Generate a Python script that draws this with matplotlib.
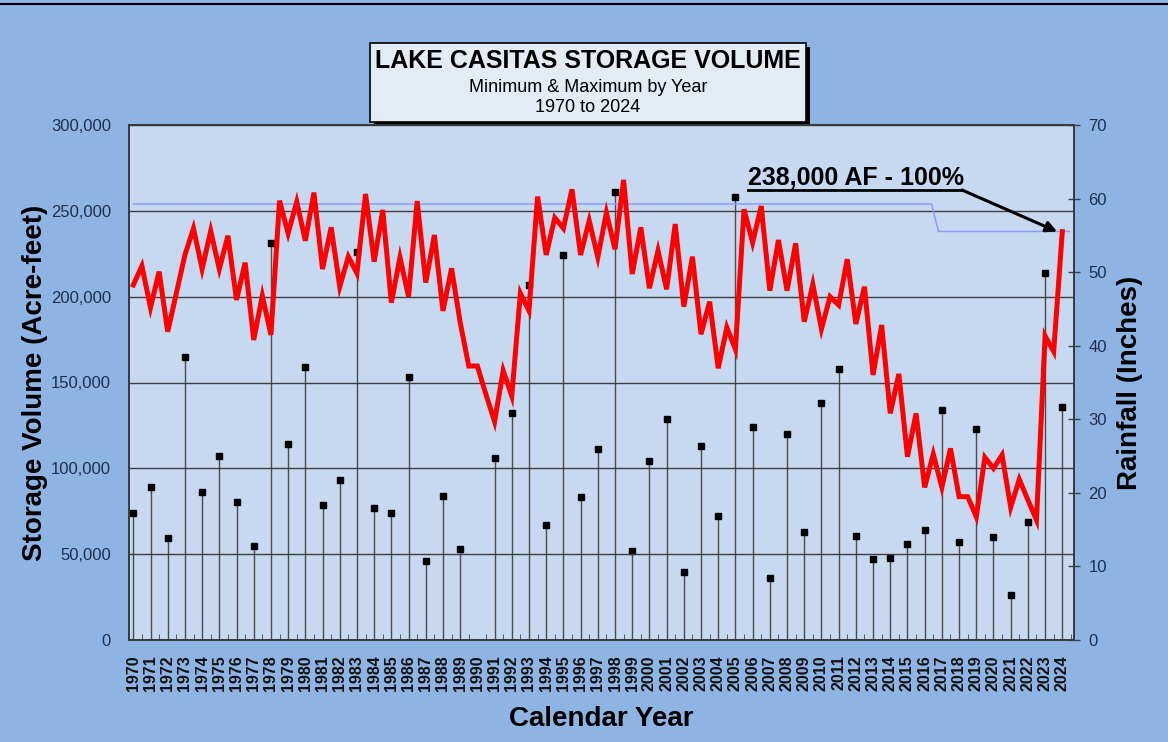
import numpy as np
import matplotlib
matplotlib.use('Agg')
import matplotlib.pyplot as plt
from matplotlib.lines import Line2D
from matplotlib.patches import Rectangle
from matplotlib.ticker import FuncFormatter, MultipleLocator

plt.rcParams['font.family'] = ['Liberation Sans', 'DejaVu Sans']

# rainfall by calendar year (inches), 1970-2024
years = np.arange(1970, 2025)
rain = [17.3, 20.8, 13.8, 38.5, 20.1, 25.0, 18.7, 12.8, 53.9, 26.6,
        37.1, 18.4, 21.7, 52.7, 18.0, 17.3, 35.7, 10.7, 19.6, 12.4,
        np.nan, 24.7, 30.8, 48.3, 15.6, 52.3, 19.4, 25.9, 60.9, 12.1,
        24.3, 30.1, 9.3, 26.4, 16.8, 60.2, 28.9, 8.4, 28.0, 14.7,
        32.2, 36.9, 14.2, 11.0, 11.2, 13.1, 14.9, 31.3, 13.3, 28.7,
        14.0, 6.1, 16.1, 49.9, 31.7]

# storage min / max alternating through each year (thousand acre-feet)
storage_years = np.arange(1970, 2024.01, 0.5)
storage_kaf = [206.8, 217.9, 193.6, 214.6, 179.6, 201.9, 224.3, 239.8, 216.1, 238.3,
               216.1, 235.5, 198.1, 219.8, 174.8, 200.6, 177.7, 255.9, 236.9, 255.3,
               232.6, 260.6, 216.1, 240.4, 205.8, 223.3, 213.6, 259.8, 220.4, 250.5,
               196.5, 222.9, 200.0, 255.7, 208.2, 235.9, 191.7, 216.5, 185.0, 159.6,
               159.6, 143.0, 127.2, 156.9, 142.1, 202.0, 191.8, 258.3, 224.3, 246.0,
               239.8, 262.5, 224.3, 244.3, 222.9, 248.9, 227.6, 268.0, 213.2, 240.4,
               204.9, 226.8, 204.3, 242.3, 194.2, 223.3, 178.1, 197.1, 158.3, 182.1,
               169.3, 250.9, 231.5, 252.8, 203.5, 233.0, 203.5, 231.1, 185.4, 207.2,
               181.2, 200.0, 195.1, 221.8, 184.1, 205.8, 154.4, 183.5, 132.0, 155.0,
               106.8, 132.0, 88.9, 108.3, 88.9, 111.6, 83.5, 83.5, 71.8, 106.4,
               100.0, 107.8, 77.3, 93.6, 81.6, 69.9, 177.1, 168.0, 237.9]

# reservoir capacity line
cap_years = [1970, 2016.4, 2016.8, 2024.4]
cap_af = [254000, 254000, 238000, 238000]

BG = '#8EB4E3'
PLOT_BG = '#C6D9F0'
TXT = '#1F2F4A'

fig = plt.figure(figsize=(11.68, 7.42), dpi=100, facecolor=BG)
ax = fig.add_axes([129 / 1168, 1 - 640 / 742, 945 / 1168, 515 / 742])
ax2 = ax.twinx()
ax.set_zorder(ax2.get_zorder() + 1)
ax.patch.set_visible(False)
ax2.patch.set_visible(True)
ax2.patch.set_facecolor(PLOT_BG)

# rainfall stems
ax2.vlines(years, 0, rain, color='#4A4A4A', lw=1.0)
ax2.plot(years, rain, 's', color='black', ms=4.2, ls='none')
ax2.set_ylim(0, 70)
ax2.yaxis.set_major_locator(MultipleLocator(10))
ax2.tick_params(axis='y', direction='inout', length=9, width=1, color='#404040',
                labelsize=12, labelcolor=TXT, pad=6)
ax2.set_ylabel('Rainfall (Inches)', fontsize=20, fontweight='bold', color='black')
ax2.yaxis.set_label_coords(1.046, 0.5)

# storage line and capacity
ax.plot(cap_years, cap_af, color='#8A9CF5', lw=1.1)
ax.plot(storage_years, np.array(storage_kaf) * 1000, color='#FF0000', lw=3.6,
        solid_joinstyle='miter')
ax.set_ylim(0, 300000)
ax.set_xlim(1969.75, 2024.68)
ax.yaxis.set_major_locator(MultipleLocator(50000))
ax.yaxis.set_major_formatter(FuncFormatter(lambda v, p: '{:,.0f}'.format(v)))
ax.grid(axis='y', color='#3F3F3F', lw=1.0)
ax.tick_params(axis='y', length=0, labelsize=12, labelcolor=TXT, pad=13)
ax.set_xticks(years)
ax.set_xticklabels([str(y) for y in years], rotation=90, fontsize=11.5,
                   fontweight='bold', color='#111111')
ax.set_xticks(years + 0.5, minor=True)
ax.tick_params(axis='x', which='major', length=0, pad=11)
ax.tick_params(axis='x', which='minor', direction='in', length=4, color='#404040')
ax.set_ylabel('Storage Volume (Acre-feet)', fontsize=20, fontweight='bold', color='black')
ax.yaxis.set_label_coords(-0.086, 0.5)
ax.set_xlabel('Calendar Year', fontsize=20, fontweight='bold', color='black')
ax.xaxis.set_label_coords(0.5, -0.128)

for a in (ax, ax2):
    for s in a.spines.values():
        s.set_color('#3A3A3A')
        s.set_linewidth(1.3)

# annotation for current capacity
fig.text(748 / 1168, 1 - 185 / 742, '238,000 AF - 100%', fontsize=18,
         fontweight='bold', va='baseline', ha='left', color='black')
fig.add_artist(Line2D([748 / 1168, 962 / 1168], [1 - 190 / 742] * 2,
                      color='black', lw=2, transform=fig.transFigure))
ax.annotate('', xy=(storage_years[-1] - 0.3, storage_kaf[-1] * 1000),
            xytext=(962 / 1168, 1 - 190 / 742), textcoords='figure fraction',
            arrowprops=dict(arrowstyle='-|>', color='black', lw=2.2,
                            mutation_scale=16, shrinkA=0, shrinkB=0))

# title box with shadow
fig.add_artist(Rectangle((374 / 1168, 1 - 126 / 742), 436 / 1168, 79 / 742,
                         transform=fig.transFigure, facecolor='black', edgecolor='none'))
fig.add_artist(Rectangle((370 / 1168, 1 - 122 / 742), 436 / 1168, 79 / 742,
                         transform=fig.transFigure, facecolor='#E3EBF5',
                         edgecolor='black', lw=1.2))
fig.text(588 / 1168, 1 - 61 / 742, 'LAKE CASITAS STORAGE VOLUME', fontsize=18,
         fontweight='bold', ha='center', va='center', color='black')
fig.text(588 / 1168, 1 - 87 / 742, 'Minimum & Maximum by Year', fontsize=13,
         ha='center', va='center', color='black')
fig.text(588 / 1168, 1 - 108 / 742, '1970 to 2024', fontsize=13,
         ha='center', va='center', color='black')

# top border line
fig.add_artist(Line2D([0, 1], [1 - 4 / 742] * 2, color='black', lw=1.5,
                      transform=fig.transFigure))

fig.savefig('out.png', dpi=100, facecolor=BG)
